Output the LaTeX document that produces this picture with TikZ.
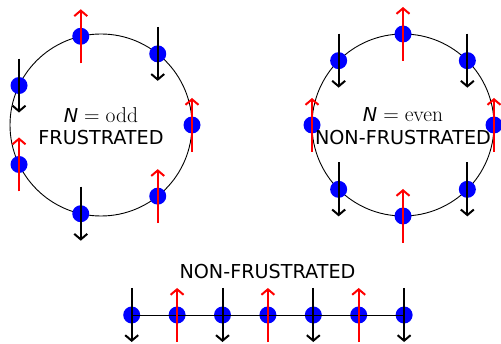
\documentclass[tikz,border=0pt]{standalone}
\usepackage{fontspec}
\newfontfamily\dv{DejaVu Sans}
\usetikzlibrary{arrows.meta,calc}
\tikzset{
  site/.style={circle,fill=blue,draw=none,minimum size=17pt,inner sep=0pt},
  spinup/.style={draw=red,line width=2pt,-{Straight Barb[length=5.5pt,width=13pt,line width=2pt]}},
  spindown/.style={draw=black,line width=2pt,-{Straight Barb[length=5.5pt,width=13pt,line width=2pt]}},
  ring/.style={draw=black,line width=0.9pt},
  lbl/.style={font=\dv\fontsize{19.2}{22}\selectfont,inner sep=0pt,text=black}
}
\newcommand{\mathpart}[1]{{\rmfamily\fontsize{21.5}{24}\selectfont =\hspace{6pt}#1}}
\begin{document}
\begin{tikzpicture}[x=1pt,y=1pt]
\useasboundingbox (0,0) rectangle (501,343);
% rings
\coordinate (L) at (101,218);
\coordinate (R) at (403,218);
\draw[ring] (L) circle (91pt);
\draw[ring] (R) circle (91pt);
% left ring sites (N=7)
\foreach \k in {0,...,6}{
  \node[site] (l\k) at ($(L)+({\k*360/7}:91)$) {};
}
% right ring sites (N=8)
\foreach \k in {0,...,7}{
  \node[site] (r\k) at ($(R)+({\k*45}:91)$) {};
}
% chain sites
\foreach \i in {0,...,6}{
  \node[site] (c\i) at ({131.7+\i*45.4},28) {};
}
\draw[black,line width=0.9pt] (c0.center) -- (c6.center);
% spins left
\foreach \k in {0,2,4,6}{
  \draw[spinup] ([yshift=-27pt]l\k.center) -- ([yshift=27pt]l\k.center);
}
\foreach \k in {1,3,5}{
  \draw[spindown] ([yshift=27pt]l\k.center) -- ([yshift=-27pt]l\k.center);
}
% spins right
\foreach \k in {0,2,4,6}{
  \draw[spinup] ([yshift=-27pt]r\k.center) -- ([yshift=27pt]r\k.center);
}
\foreach \k in {1,3,5,7}{
  \draw[spindown] ([yshift=27pt]r\k.center) -- ([yshift=-27pt]r\k.center);
}
% spins chain
\foreach \i in {1,3,5}{
  \draw[spinup] ([yshift=-27pt]c\i.center) -- ([yshift=27pt]c\i.center);
}
\foreach \i in {0,2,4,6}{
  \draw[spindown] ([yshift=27pt]c\i.center) -- ([yshift=-27pt]c\i.center);
}
% labels
\node[lbl] (tl1) at (101,228) {{\itshape N}\hspace{6pt}\mathpart{odd}};
\node[lbl] (tl2) at (101,205) {FRUSTRATED};
\node[lbl] (tr1) at (403,228) {{\itshape N}\hspace{6pt}\mathpart{even}};
\node[lbl] (tr2) at (403,205) {NON-FRUSTRATED};
\node[lbl] (tc) at (267.5,71) {NON-FRUSTRATED};
\end{tikzpicture}
\end{document}
